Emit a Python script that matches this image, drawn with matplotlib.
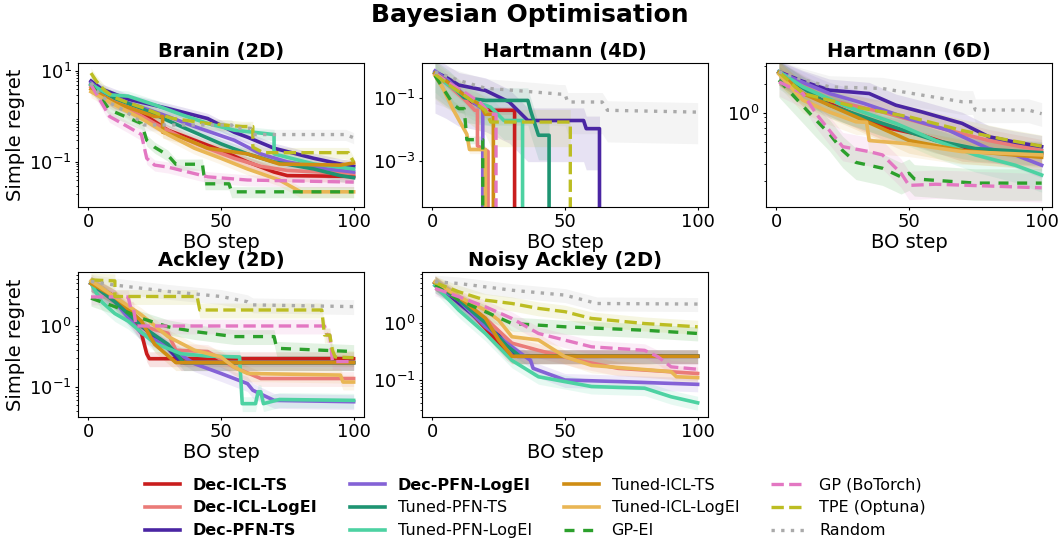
import numpy as np
import matplotlib
matplotlib.use("Agg")
import matplotlib.pyplot as plt

# ---------------- data (break-points: (BO step, simple regret)) ----------------
series_names = ["Dec-ICL-TS", "Dec-ICL-LogEI", "Dec-PFN-TS", "Dec-PFN-LogEI",
                "Tuned-PFN-TS", "Tuned-PFN-LogEI", "Tuned-ICL-TS", "Tuned-ICL-LogEI",
                "GP-EI", "GP (BoTorch)", "TPE (Optuna)", "Random"]
bold_names = ["Dec-ICL-TS", "Dec-ICL-LogEI", "Dec-PFN-TS", "Dec-PFN-LogEI"]
panel_titles = ["Branin (2D)", "Hartmann (4D)", "Hartmann (6D)", "Ackley (2D)", "Noisy Ackley (2D)"]
x_ticks = [0, 50, 100]
y_ticks = [[0.1, 10], [1e-3, 1e-1], [1.0], [0.1, 1.0], [0.1, 1.0]]
ylims = [(0.0102, 15), (3.5e-5, 1.25), (0.108, 3.25), (0.032, 7.7), (0.0226, 7.7)]

branin = {
    "Dec-ICL-TS": [(1, 5), (5, 3), (10, 2), (20, 1.2), (30, 0.5), (40, 0.3), (50, 0.18), (60, 0.1), (70, 0.06), (75, 0.05), (100, 0.048)],
    "Dec-ICL-LogEI": [(1, 4.5), (8, 2.5), (15, 1.5), (25, 0.7), (35, 0.35), (45, 0.2), (55, 0.12), (65, 0.08), (75, 0.065), (100, 0.055)],
    "Dec-PFN-TS": [(1, 6), (5, 4), (15, 2.4), (30, 1.5), (45, 0.9), (55, 0.45), (60, 0.35), (70, 0.2), (85, 0.12), (95, 0.09), (100, 0.08)],
    "Dec-PFN-LogEI": [(1, 5.5), (5, 3.5), (15, 2), (30, 1), (40, 0.6), (55, 0.3), (65, 0.15), (75, 0.1), (90, 0.07), (100, 0.06)],
    "Tuned-PFN-TS": [(1, 5), (10, 2.5), (20, 1.5), (35, 0.6), (50, 0.25), (60, 0.15), (70, 0.1), (85, 0.07), (95, 0.05), (100, 0.045)],
    "Tuned-PFN-LogEI": [(1, 5), (8, 3), (15, 2.8), (25, 1.8), (35, 1.1), (45, 0.7), (55, 0.5), (70, 0.4), (70, 0.15), (85, 0.09), (100, 0.07)],
    "Tuned-ICL-TS": [(1, 4), (10, 2), (25, 1.0), (28, 1.0), (28, 0.45), (35, 0.35), (45, 0.2), (60, 0.15), (72, 0.09), (95, 0.085), (100, 0.095)],
    "Tuned-ICL-LogEI": [(1, 3.5), (10, 1.8), (20, 0.9), (30, 0.4), (40, 0.2), (50, 0.12), (60, 0.07), (72, 0.04), (80, 0.022), (100, 0.022)],
    "GP-EI": [(1, 5), (8, 1.4), (20, 0.7), (22, 0.3), (25, 0.21), (30, 0.14), (33, 0.089), (43, 0.089), (44, 0.033), (53, 0.033), (54, 0.022), (100, 0.022)],
    "GP (BoTorch)": [(1, 5), (8, 1), (15, 0.59), (20, 0.4), (22, 0.12), (25, 0.085), (30, 0.077), (45, 0.047), (60, 0.04), (100, 0.036)],
    "TPE (Optuna)": [(1, 9), (3, 6), (6, 3.8), (10, 2.6), (15, 2.0), (20, 1.6), (27, 1.1), (32, 0.9), (45, 0.7), (58, 0.6), (62, 0.6), (62, 0.21), (66, 0.16), (98, 0.16), (100, 0.1)],
    "Random": [(1, 5.5), (4, 3.2), (8, 2.0), (13, 1.4), (18, 0.9), (21, 0.65), (54, 0.65), (55, 0.55), (61, 0.55), (62, 0.4), (97, 0.4), (100, 0.34)],
}

hartmann4 = {
    "Dec-ICL-TS": [(1, 0.6), (6, 0.3), (12, 0.1), (17, 0.06), (22, 0.04), (31, 0.04), (31, 0.0)],
    "Dec-ICL-LogEI": [(1, 0.55), (6, 0.25), (12, 0.09), (16, 0.04), (17, 0.04), (17, 0.003), (21, 0.002), (21, 0.0)],
    "Dec-PFN-TS": [(1, 0.65), (5, 0.45), (10, 0.25), (20, 0.17), (29, 0.073), (36, 0.019), (57, 0.019), (58, 0.0105), (63, 0.0105), (63, 0.0)],
    "Dec-PFN-LogEI": [(1, 0.7), (6, 0.35), (12, 0.12), (18, 0.05), (19, 0.05), (19, 0.0)],
    "Tuned-PFN-TS": [(1, 0.6), (6, 0.3), (12, 0.1), (20, 0.082), (36, 0.082), (37, 0.04), (40, 0.0065), (44, 0.0065), (44, 0.0)],
    "Tuned-PFN-LogEI": [(1, 0.6), (6, 0.25), (15, 0.082), (22, 0.05), (27, 0.019), (34, 0.019), (34, 0.0)],
    "Tuned-ICL-TS": [(1, 0.6), (6, 0.3), (12, 0.12), (18, 0.06), (20, 0.03), (23, 0.03), (23, 0.0)],
    "Tuned-ICL-LogEI": [(1, 0.5), (4, 0.2), (8, 0.04), (13, 0.007), (14, 0.0023), (20, 0.0023), (20, 0.0)],
    "GP-EI": [(1, 0.5), (4, 0.2), (8, 0.06), (10, 0.045), (12, 0.045), (13, 0.0047), (19, 0.0047), (19, 0.0)],
    "GP (BoTorch)": [(1, 0.6), (6, 0.3), (12, 0.15), (18, 0.07), (22, 0.03), (24, 0.03), (24, 0.0)],
    "TPE (Optuna)": [(1, 0.55), (5, 0.3), (12, 0.12), (17, 0.06), (20, 0.04), (22, 0.017), (52, 0.017), (52, 0.0)],
    "Random": [(1, 0.65), (5, 0.5), (10, 0.35), (14, 0.28), (20, 0.2), (31, 0.17), (48, 0.13), (50, 0.13), (51, 0.073), (64, 0.073), (66, 0.04), (100, 0.035)],
}

hartmann6 = {
    "Dec-ICL-TS": [(1, 2.6), (20, 1.25), (40, 0.72), (55, 0.59), (70, 0.43), (100, 0.38)],
    "Dec-ICL-LogEI": [(1, 2.6), (20, 1.35), (40, 1.02), (60, 0.72), (80, 0.52), (100, 0.41)],
    "Dec-PFN-TS": [(1, 2.64), (10, 2.1), (20, 1.71), (35, 1.58), (45, 1.2), (55, 1.02), (70, 0.78), (80, 0.57), (90, 0.5), (100, 0.45)],
    "Dec-PFN-LogEI": [(1, 2.6), (20, 1.58), (33, 1.25), (50, 0.87), (65, 0.66), (80, 0.43), (90, 0.37), (100, 0.29)],
    "Tuned-PFN-TS": [(1, 2.6), (20, 1.2), (40, 0.78), (60, 0.52), (75, 0.43), (100, 0.39)],
    "Tuned-PFN-LogEI": [(1, 2.64), (10, 1.85), (25, 1.2), (45, 0.78), (60, 0.52), (75, 0.37), (90, 0.29), (100, 0.23)],
    "Tuned-ICL-TS": [(1, 2.6), (10, 1.58), (30, 0.91), (50, 0.52), (70, 0.41), (100, 0.35)],
    "Tuned-ICL-LogEI": [(1, 2.5), (10, 1.35), (20, 1.02), (30, 0.81), (34, 0.8), (35, 0.52), (50, 0.48), (70, 0.40), (100, 0.37)],
    "GP-EI": [(1, 2.17), (8, 1.35), (15, 0.84), (20, 0.61), (25, 0.41), (30, 0.31), (40, 0.27), (47, 0.22), (50, 0.24), (52, 0.21), (75, 0.19), (100, 0.19)],
    "GP (BoTorch)": [(1, 2.08), (10, 1.58), (15, 0.98), (20, 0.66), (25, 0.45), (35, 0.40), (40, 0.37), (47, 0.24), (50, 0.18), (60, 0.185), (100, 0.17)],
    "TPE (Optuna)": [(1, 2.6), (10, 1.58), (30, 1.15), (50, 0.91), (70, 0.66), (85, 0.54), (100, 0.455)],
    "Random": [(1, 2.64), (10, 2.2), (20, 1.85), (40, 1.78), (55, 1.52), (70, 1.3), (74, 1.3), (75, 1.07), (95, 1.07), (100, 0.98)],
}

ackley = {
    "Dec-ICL-TS": [(1, 5.0), (10, 3.05), (20, 0.76), (22, 0.35), (23, 0.29), (100, 0.29)],
    "Dec-ICL-LogEI": [(1, 5.0), (10, 2.68), (20, 1.0), (30, 0.76), (33, 0.40), (45, 0.38), (55, 0.21), (65, 0.137), (100, 0.137)],
    "Dec-PFN-TS": [(1, 5.0), (10, 3.0), (20, 1.0), (30, 0.43), (35, 0.25), (100, 0.25)],
    "Dec-PFN-LogEI": [(1, 5.0), (10, 2.5), (20, 0.76), (30, 0.46), (40, 0.24), (50, 0.166), (60, 0.113), (62, 0.088), (70, 0.06), (100, 0.057)],
    "Tuned-PFN-TS": [(1, 5.0), (10, 2.5), (20, 1.0), (30, 0.5), (36, 0.25), (100, 0.25)],
    "Tuned-PFN-LogEI": [(1, 5.0), (5, 2.5), (10, 1.6), (15, 1.2), (25, 0.52), (35, 0.35), (45, 0.32), (57, 0.31), (58, 0.053), (63, 0.053), (64, 0.083), (65, 0.083), (66, 0.053), (72, 0.062), (100, 0.06)],
    "Tuned-ICL-TS": [(1, 5.0), (10, 3.0), (20, 1.2), (25, 0.5), (33, 0.25), (100, 0.25)],
    "Tuned-ICL-LogEI": [(1, 5.5), (10, 3.0), (20, 1.52), (30, 0.67), (40, 0.40), (50, 0.31), (55, 0.21), (60, 0.166), (95, 0.156), (96, 0.12), (100, 0.12)],
    "GP-EI": [(1, 2.86), (10, 2.08), (20, 1.34), (30, 0.97), (40, 0.81), (55, 0.67), (70, 0.67), (71, 0.43), (100, 0.38)],
    "GP (BoTorch)": [(1, 3.0), (15, 3.0), (16, 1.95), (17, 1.95), (18, 1.0), (89, 1.0), (90, 0.71), (91, 0.71), (92, 0.26), (100, 0.26)],
    "TPE (Optuna)": [(1, 5.7), (10, 5.5), (10, 3.05), (41, 3.05), (42, 1.83), (88, 1.83), (89, 0.71), (91, 0.71), (92, 0.4), (93, 0.31), (100, 0.3)],
    "Random": [(1, 5.4), (10, 4.7), (30, 3.7), (50, 3.05), (60, 2.5), (62, 2.22), (100, 2.08)],
}

noisy_ackley = {
    "Dec-ICL-TS": [(1, 5.0), (10, 2.5), (20, 0.8), (28, 0.3), (30, 0.26), (100, 0.26)],
    "Dec-ICL-LogEI": [(1, 5.0), (10, 2.5), (20, 1.2), (30, 0.44), (40, 0.33), (55, 0.22), (70, 0.16), (100, 0.13)],
    "Dec-PFN-TS": [(1, 5.0), (10, 2.2), (20, 0.9), (25, 0.6), (32, 0.26), (100, 0.26)],
    "Dec-PFN-LogEI": [(1, 4.5), (10, 2.48), (20, 0.85), (30, 0.38), (37, 0.22), (38, 0.16), (50, 0.1), (70, 0.094), (100, 0.084)],
    "Tuned-PFN-TS": [(1, 5.0), (10, 2.5), (20, 1.0), (28, 0.4), (33, 0.26), (100, 0.26)],
    "Tuned-PFN-LogEI": [(1, 4.5), (10, 1.66), (20, 0.65), (30, 0.22), (40, 0.114), (60, 0.077), (80, 0.072), (90, 0.051), (100, 0.04)],
    "Tuned-ICL-TS": [(1, 5.0), (10, 2.8), (20, 1.2), (25, 0.5), (30, 0.26), (100, 0.26)],
    "Tuned-ICL-LogEI": [(1, 5.2), (10, 2.84), (20, 1.66), (25, 1.11), (30, 0.57), (40, 0.50), (50, 0.255), (60, 0.18), (90, 0.14), (92, 0.114), (100, 0.11)],
    "GP-EI": [(1, 4.5), (10, 2.48), (20, 1.56), (30, 0.97), (50, 0.85), (80, 0.74), (100, 0.65)],
    "GP (BoTorch)": [(1, 4.0), (10, 2.84), (20, 1.9), (30, 1.19), (40, 0.65), (60, 0.38), (80, 0.33), (85, 0.255), (90, 0.17), (100, 0.154)],
    "TPE (Optuna)": [(1, 5.0), (10, 3.47), (20, 2.48), (30, 2.17), (40, 1.78), (50, 1.56), (55, 1.36), (60, 1.19), (80, 0.97), (100, 0.85)],
    "Random": [(1, 5.2), (10, 4.85), (30, 3.7), (50, 3.04), (62, 2.17), (100, 2.12)],
}

# shaded band: (lower divisor, upper multiplier)
band_default = (1.35, 1.3)
band_hartmann4 = {"Random": (10, 2.0), "Dec-PFN-TS": (20, 2.5), "TPE (Optuna)": (6, 2.5),
                  "Tuned-PFN-TS": (6, 2.5), "Tuned-PFN-LogEI": (4, 2.0)}
band_hartmann6 = {"GP-EI": (1.5, 1.4), "GP (BoTorch)": (1.4, 1.4), "Tuned-PFN-LogEI": (1.5, 1.3)}

# ---------------- styles ----------------
colors = {
    "Dec-ICL-TS": "#c91d1d", "Dec-ICL-LogEI": "#ea7b78", "Dec-PFN-TS": "#4a25a3",
    "Dec-PFN-LogEI": "#8462d6", "Tuned-PFN-TS": "#1e9472", "Tuned-PFN-LogEI": "#4dd2a2",
    "Tuned-ICL-TS": "#cf8d14", "Tuned-ICL-LogEI": "#e9b655", "GP-EI": "#2ca02c",
    "GP (BoTorch)": "#e377c2", "TPE (Optuna)": "#bcbd22", "Random": "#aaaaaa",
}
dashes = {"GP-EI": (3.0, 2.6), "GP (BoTorch)": (3.7, 1.6), "TPE (Optuna)": (3.7, 1.6), "Random": (1.0, 1.9)}

W, H = 1060, 546
fig = plt.figure(figsize=(W / 100, H / 100), dpi=100)

ax_px = [(78, 63), (422, 63), (766, 63), (78, 272), (422, 272)]
ax_w, ax_h = [286, 286, 286, 286, 286], [144, 144, 144, 145, 145]
datasets = [branin, hartmann4, hartmann6, ackley, noisy_ackley]
bands = [{}, band_hartmann4, band_hartmann6, {}, {}]

handles = {}
for i, (data, title) in enumerate(zip(datasets, panel_titles)):
    l, t = ax_px[i]
    ax = fig.add_axes([l / W, 1 - (t + ax_h[i]) / H, ax_w[i] / W, ax_h[i] / H])
    for name in series_names:
        pts = np.array(data[name], dtype=float)
        xs, ys = pts[:, 0], pts[:, 1]
        yplot = np.clip(ys, 1e-12, None)
        lo_f, hi_f = bands[i].get(name, band_default)
        ax.fill_between(xs, np.clip(ys / lo_f, 1e-12, None), np.clip(ys * hi_f, 1e-12, None),
                        color=colors[name], alpha=0.13, linewidth=0)
        kw = dict(color=colors[name], lw=2.6, label=name)
        if name in dashes:
            kw["dashes"] = dashes[name]
            kw["lw"] = 2.4
        line, = ax.plot(xs, yplot, **kw)
        handles[name] = line
    ax.set_yscale("log")
    ax.set_ylim(*ylims[i])
    ax.set_yticks(y_ticks[i])
    ax.set_xlim(-3.9, 103.9)
    ax.set_xticks(x_ticks)
    ax.tick_params(which="major", labelsize=13, length=2.5, pad=2)
    ax.tick_params(which="minor", length=1.5)
    ax.set_title(title, fontsize=14, fontweight="bold", pad=4)
    ax.set_xlabel("BO step", fontsize=14, labelpad=1)
    if i in (0, 3):
        ax.set_ylabel("Simple regret", fontsize=14, labelpad=3)

fig.text(0.5, 0.972, "Bayesian Optimisation", ha="center", va="center", fontsize=18, fontweight="bold")

leg = fig.legend([handles[n] for n in series_names], series_names, loc="center",
                 bbox_to_anchor=(0.505, 0.0696), ncol=4, frameon=False, fontsize=11.5,
                 handlelength=2.2, labelspacing=0.5)
for txt in leg.get_texts():
    if txt.get_text() in bold_names:
        txt.set_fontweight("bold")

fig.savefig("out.png", dpi=100)
